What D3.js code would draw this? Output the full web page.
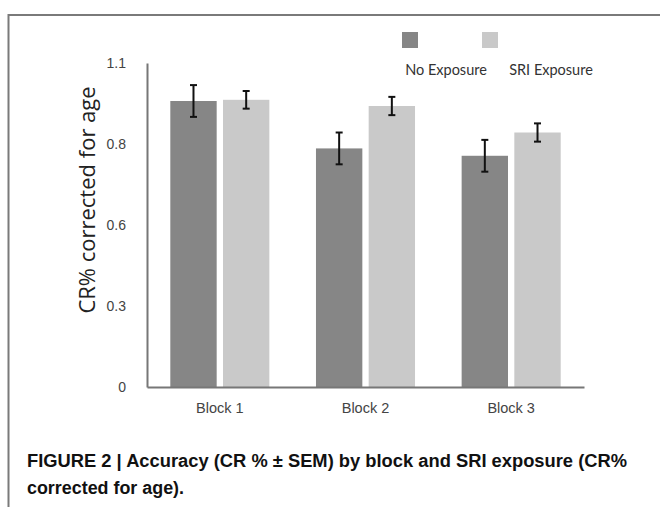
<!DOCTYPE html>
<html><head><meta charset="utf-8">
<script src="https://cdn.jsdelivr.net/npm/d3@7"></script>
<style>html,body{margin:0;padding:0;background:#fff;}svg{display:block;}</style>
</head><body>
<svg id="c" width="660" height="507"></svg>
<script>
const blocks = ["Block 1", "Block 2", "Block 3"];
const series = ["No Exposure", "SRI Exposure"];
const noExposure = [0.971, 0.810, 0.785];
const sriExposure = [0.975, 0.954, 0.864];
const noExposureSEM = [0.054, 0.054, 0.054];
const sriExposureSEM = [0.030, 0.031, 0.031];
const tickValues = [0, 0.275, 0.55, 0.825, 1.1];
const tickLabels = ["0", "0.3", "0.6", "0.8", "1.1"];
const yTitle = "CR% corrected for age";
const captionLines = ["FIGURE 2 | Accuracy (CR % \u00B1 SEM) by block and SRI exposure (CR%", "corrected for age)."];
const colors = ["#868686", "#c9c9c9"];

const svg = d3.select("#c");
const plotLeft = 147, plotRight = 584, plotTop = 63, plotBottom = 387;

// frame
svg.append("path").attr("d", "M8.5,507 L8.5,15 L660,15").attr("fill", "none").attr("stroke", "#7a7a7a").attr("stroke-width", 2);

const y = d3.scaleLinear().domain([0, 1.1]).range([plotBottom, plotTop]);
const x0 = d3.scaleBand().domain(blocks).range([plotLeft, plotRight]).paddingInner(0.32).paddingOuter(0.16);
const x1 = d3.scaleBand().domain(series).range([0, x0.bandwidth()]).paddingInner(0.12);

const rows = blocks.map((b, i) => ({
  block: b,
  vals: [
    {s: series[0], v: noExposure[i], e: noExposureSEM[i], c: colors[0]},
    {s: series[1], v: sriExposure[i], e: sriExposureSEM[i], c: colors[1]}
  ]
}));

const g = svg.append("g");
const grp = g.selectAll("g.blk").data(rows).join("g").attr("class", "blk")
  .attr("transform", d => `translate(${x0(d.block)},0)`);
grp.selectAll("rect").data(d => d.vals).join("rect")
  .attr("x", d => x1(d.s)).attr("width", x1.bandwidth())
  .attr("y", d => y(d.v)).attr("height", d => y(0) - y(d.v))
  .attr("fill", d => d.c);

// error bars
const eb = grp.selectAll("g.err").data(d => d.vals).join("g").attr("class", "err")
  .attr("stroke", "#111").attr("stroke-width", 2);
eb.append("line")
  .attr("x1", d => x1(d.s) + x1.bandwidth() / 2).attr("x2", d => x1(d.s) + x1.bandwidth() / 2)
  .attr("y1", d => y(d.v + d.e)).attr("y2", d => y(d.v - d.e));
[1, -1].forEach(sg => {
  eb.append("line")
    .attr("x1", d => x1(d.s) + x1.bandwidth() / 2 - 3.5).attr("x2", d => x1(d.s) + x1.bandwidth() / 2 + 3.5)
    .attr("y1", d => y(d.v + sg * d.e)).attr("y2", d => y(d.v + sg * d.e));
});

// y axis
const yAxis = d3.axisLeft(y).tickValues(tickValues).tickSize(0).tickPadding(21)
  .tickFormat((d, i) => tickLabels[i]);
const ya = svg.append("g").attr("transform", `translate(${plotLeft},0)`).call(yAxis);
ya.select(".domain").attr("stroke", "#777").attr("stroke-width", 2);
ya.selectAll("text").attr("font-family", "Liberation Sans, Arial, sans-serif").attr("font-size", 14).attr("fill", "#444");

// x axis
const xAxis = d3.axisBottom(x0).tickSize(0).tickPadding(16);
const xa = svg.append("g").attr("transform", `translate(0,${plotBottom})`).call(xAxis);
xa.select(".domain").attr("stroke", "#777").attr("stroke-width", 2);
xa.selectAll("text").attr("font-family", "Liberation Sans, Arial, sans-serif").attr("font-size", 14.5).attr("fill", "#444");

// y title
svg.append("text").attr("transform", "translate(95,200) rotate(-90)")
  .attr("text-anchor", "middle").attr("font-family", "Open Sans, Lato, sans-serif")
  .attr("font-size", 22).attr("fill", "#222").text(yTitle);

// legend
const legX = [410, 490];
const legTextX = [446, 551];
series.forEach((s, i) => {
  svg.append("rect").attr("x", legX[i] - 8).attr("y", 32).attr("width", 16).attr("height", 16).attr("fill", colors[i]);
  svg.append("text").attr("x", legTextX[i]).attr("y", 75).attr("text-anchor", "middle")
    .attr("font-family", "Lato, sans-serif").attr("font-size", 14.5).attr("fill", "#333").text(s);
});

// caption
const capLens = [600, 157];
captionLines.forEach((t, i) => {
  svg.append("text").attr("x", 27).attr("y", 467 + i * 27)
    .attr("font-family", "Liberation Sans Narrow, Arial Narrow, Liberation Sans, sans-serif")
    .attr("font-weight", "bold").attr("font-size", 17.5).attr("fill", "#111").text(t)
    .attr("textLength", capLens[i]).attr("lengthAdjust", "spacingAndGlyphs");
});
</script>
</body></html>
